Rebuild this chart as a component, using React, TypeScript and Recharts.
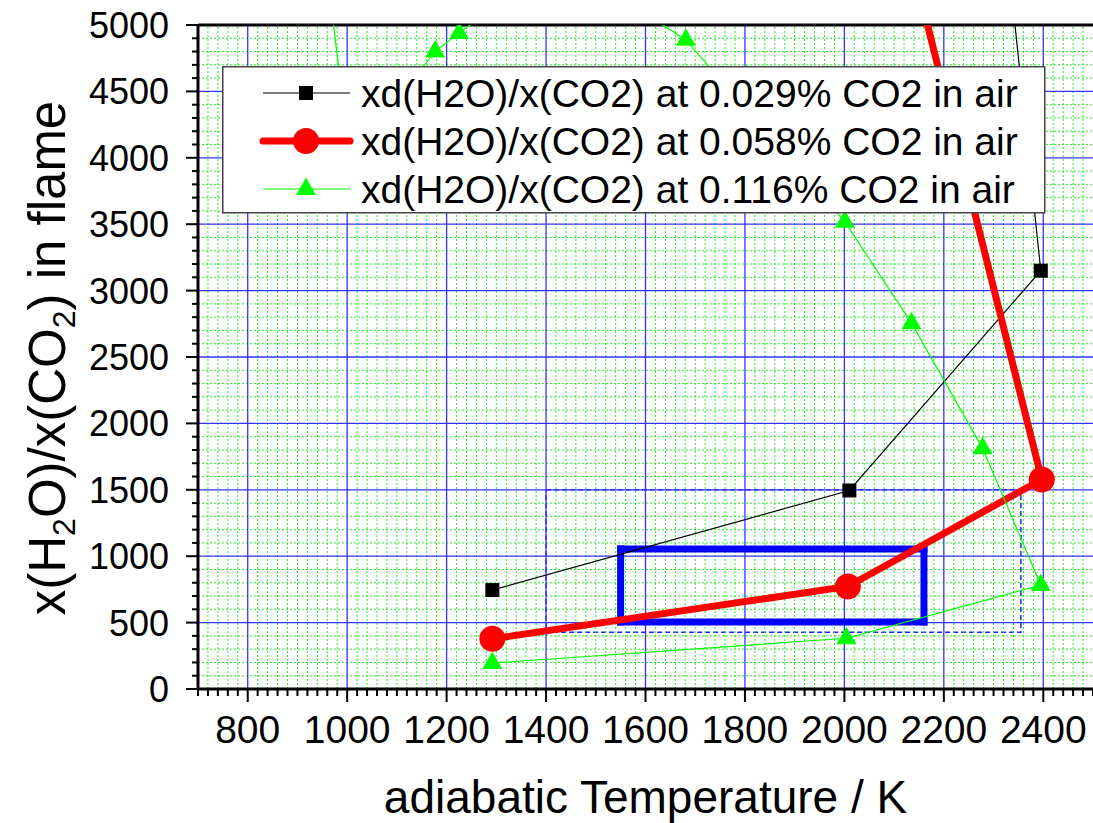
import React from 'react';
import {
  ComposedChart,
  Line,
  XAxis,
  YAxis,
  ReferenceLine,
  ReferenceArea,
  Legend,
} from 'recharts';

const FONT = '"Liberation Sans", Arial, Helvetica, sans-serif';

// adiabatic temperature (K) vs. x(H2O)/x(CO2) in the flame, one pair per CO2 level
const tempCo2Low = [1292, 2010, 2395, 2315];
const ratioCo2Low = [745, 1495, 3150, 6000];

const tempCo2Mid = [1292, 2007, 2397, 2100];
const ratioCo2Mid = [378, 772, 1578, 6000];

const tempCo2High = [1292, 2004, 2395, 2278, 2135, 2001, 1681, 1430, 1225, 1177, 1005, 940];
const ratioCo2High = [195, 382, 783, 1812, 2755, 3518, 4888, 5500, 4940, 4800, 4000, 6000];

const seriesNames = [
  'xd(H2O)/x(CO2) at 0.029% CO2 in air',
  'xd(H2O)/x(CO2) at 0.058% CO2 in air',
  'xd(H2O)/x(CO2) at 0.116% CO2 in air',
];

const xMajorTicks = [800, 1000, 1200, 1400, 1600, 1800, 2000, 2200, 2400];
const yMajorTicks = [0, 500, 1000, 1500, 2000, 2500, 3000, 3500, 4000, 4500, 5000];

// highlighted window and the dashed range around it
const boxTemp = [1550, 2160];
const boxRatio = [505, 1055];
const rangeTemp = [1400, 2355];
const rangeRatio = [428, 1500];

const X_MIN = 700;
const X_MAX = 2500;
const Y_MIN = 0;
const Y_MAX = 5000;

const xMinorTicks: number[] = [];
for (let t = X_MIN; t <= X_MAX; t += 20) xMinorTicks.push(t);
const yMinorTicks: number[] = [];
for (let v = Y_MIN; v <= Y_MAX; v += 100) yMinorTicks.push(v);

const GRID_BLUE = '#3333ff';
const GRID_GREEN = '#22ee22';

const toPoints = (temps: number[], ratios: number[]) =>
  temps.map((t, i) => ({ t, v: ratios[i] }));

type Marker = 'square' | 'circle' | 'triangle';

const series = [
  { name: seriesNames[0], data: toPoints(tempCo2Low, ratioCo2Low), color: '#000000', width: 1.2, marker: 'square' as Marker },
  { name: seriesNames[1], data: toPoints(tempCo2Mid, ratioCo2Mid), color: '#ff0000', width: 7, marker: 'circle' as Marker },
  { name: seriesNames[2], data: toPoints(tempCo2High, ratioCo2High), color: '#00ff00', width: 1.2, marker: 'triangle' as Marker },
];

// corners of the highlighted window, walked as four edges
const boxEdges = [
  [{ x: boxTemp[0], y: boxRatio[0] }, { x: boxTemp[1], y: boxRatio[0] }],
  [{ x: boxTemp[1], y: boxRatio[0] }, { x: boxTemp[1], y: boxRatio[1] }],
  [{ x: boxTemp[1], y: boxRatio[1] }, { x: boxTemp[0], y: boxRatio[1] }],
  [{ x: boxTemp[0], y: boxRatio[1] }, { x: boxTemp[0], y: boxRatio[0] }],
];

function markerShape(kind: Marker, cx: number, cy: number, color: string, key?: React.Key) {
  if (kind === 'square') {
    return <rect key={key} x={cx - 7} y={cy - 7} width={14} height={14} fill={color} />;
  }
  if (kind === 'circle') {
    return <circle key={key} cx={cx} cy={cy} r={13} fill={color} />;
  }
  return (
    <polygon
      key={key}
      points={`${cx},${cy - 11.5} ${cx + 10},${cy + 6} ${cx - 10},${cy + 6}`}
      fill={color}
    />
  );
}

function XTick(props: any) {
  const { x, y, payload } = props;
  const major = payload.value % 200 === 0 && payload.value !== X_MIN;
  return (
    <g>
      <line x1={x} x2={x} y1={y} y2={y + (major ? 13 : 7)} stroke="#000" strokeWidth={2} />
      {major && (
        <text x={x} y={y + 54} textAnchor="middle" fontSize={39} fontFamily={FONT} fill="#000">
          {payload.value}
        </text>
      )}
    </g>
  );
}

function YTick(props: any) {
  const { x, y, payload } = props;
  const major = payload.value % 500 === 0;
  return (
    <g>
      <line x1={x} x2={x - (major ? 12 : 6)} y1={y} y2={y} stroke="#000" strokeWidth={2} />
      {major && (
        <text x={x - 29} y={y + 13} textAnchor="end" fontSize={36} fontFamily={FONT} fill="#000">
          {payload.value}
        </text>
      )}
    </g>
  );
}

function XTitle(props: any) {
  const { viewBox } = props;
  const cx = viewBox.x + viewBox.width / 2;
  return (
    <text x={cx} y={813} textAnchor="middle" fontSize={46} fontFamily={FONT} fill="#000">
      adiabatic Temperature / K
    </text>
  );
}

function YTitle() {
  const cx = 65;
  const cy = 358;
  return (
    <text
      x={cx}
      y={cy}
      transform={`rotate(-90 ${cx} ${cy})`}
      textAnchor="middle"
      fontSize={51}
      fontFamily={FONT}
      fill="#000"
    >
      x(H
      <tspan fontSize={32} dy={10}>2</tspan>
      <tspan dy={-10}>O)/x(CO</tspan>
      <tspan fontSize={32} dy={10}>2</tspan>
      <tspan dy={-10}>) in flame</tspan>
    </text>
  );
}

function LegendBox() {
  return (
    <svg width={824} height={148} style={{ display: 'block' }}>
      <rect x={0.75} y={0.75} width={822} height={146} fill="#fff" stroke="#444" strokeWidth={1.5} />
      {series.map((s, i) => {
        const cy = 27 + i * 48;
        return (
          <g key={s.name}>
            <line
              x1={41}
              x2={128}
              y1={cy}
              y2={cy}
              stroke={s.color}
              strokeWidth={s.width}
              strokeLinecap={s.width > 3 ? 'round' : 'butt'}
            />
            {markerShape(s.marker, 84, cy, s.color)}
            <text x={139} y={cy + 13.5} fontSize={39} fontFamily={FONT} fill="#000">
              {s.name}
            </text>
          </g>
        );
      })}
    </svg>
  );
}

export default function App() {
  return (
    <div style={{ position: 'absolute', left: 0, top: 0, background: '#fff' }}>
      <ComposedChart
        width={1093}
        height={823}
        margin={{ top: 25, right: 0, bottom: 0, left: 0 }}
        style={{ fontFamily: FONT }}
      >
        <XAxis
          type="number"
          dataKey="t"
          domain={[X_MIN, X_MAX]}
          allowDataOverflow
          ticks={xMinorTicks}
          interval={0}
          tick={<XTick />}
          tickLine={false}
          tickSize={0}
          tickMargin={0}
          height={134}
          axisLine={{ stroke: '#000', strokeWidth: 3 }}
          label={{ content: <XTitle /> }}
        />
        <YAxis
          type="number"
          dataKey="v"
          domain={[Y_MIN, Y_MAX]}
          allowDataOverflow
          ticks={yMinorTicks}
          interval={0}
          tick={<YTick />}
          tickLine={false}
          tickSize={0}
          tickMargin={0}
          width={198}
          axisLine={{ stroke: '#000', strokeWidth: 3 }}
          label={{ content: <YTitle /> }}
        />

        <ReferenceArea
          x1={rangeTemp[0]}
          x2={rangeTemp[1]}
          y1={rangeRatio[0]}
          y2={rangeRatio[1]}
          fill="none"
          fillOpacity={0}
          stroke="#2020ff"
          strokeWidth={1.5}
          strokeDasharray="5 3"
        />

        {/* minor grid: dotted green */}
        {xMinorTicks
          .filter((t) => t % 200 !== 0 && t !== X_MIN && t !== X_MAX)
          .map((t) => (
            <ReferenceLine key={`gx${t}`} x={t} stroke={GRID_GREEN} strokeWidth={1} strokeDasharray="2 2" />
          ))}
        {yMinorTicks
          .filter((v) => v % 500 !== 0)
          .map((v) => (
            <ReferenceLine key={`gy${v}`} y={v} stroke={GRID_GREEN} strokeWidth={1} strokeDasharray="2 2" />
          ))}

        {/* major grid: solid blue */}
        {xMajorTicks.map((t) => (
          <ReferenceLine key={`bx${t}`} x={t} stroke={GRID_BLUE} strokeWidth={1.3} />
        ))}
        {yMajorTicks
          .filter((v) => v !== Y_MIN && v !== Y_MAX)
          .map((v) => (
            <ReferenceLine key={`by${v}`} y={v} stroke={GRID_BLUE} strokeWidth={1.3} />
          ))}
        <ReferenceLine y={Y_MAX} stroke="#000" strokeWidth={3} />

        {/* highlighted window, solid thick blue */}
        {boxEdges.map((seg, i) => (
          <ReferenceLine
            key={`box${i}`}
            segment={seg}
            stroke="#0000ff"
            strokeWidth={7}
            strokeLinecap="square"
          />
        ))}

        {series.map((s) => (
          <Line
            key={s.name}
            name={s.name}
            data={s.data}
            dataKey="v"
            type="linear"
            stroke={s.color}
            strokeWidth={s.width}
            isAnimationActive={false}
            dot={(p: any) => markerShape(s.marker, p.cx, p.cy, s.color, `${s.marker}-${p.index}`)}
            activeDot={false}
          />
        ))}

        <Legend
          layout="vertical"
          align="center"
          verticalAlign="middle"
          wrapperStyle={{ left: 222, top: 66, width: 824, height: 148 }}
          content={<LegendBox />}
        />
      </ComposedChart>
    </div>
  );
}
